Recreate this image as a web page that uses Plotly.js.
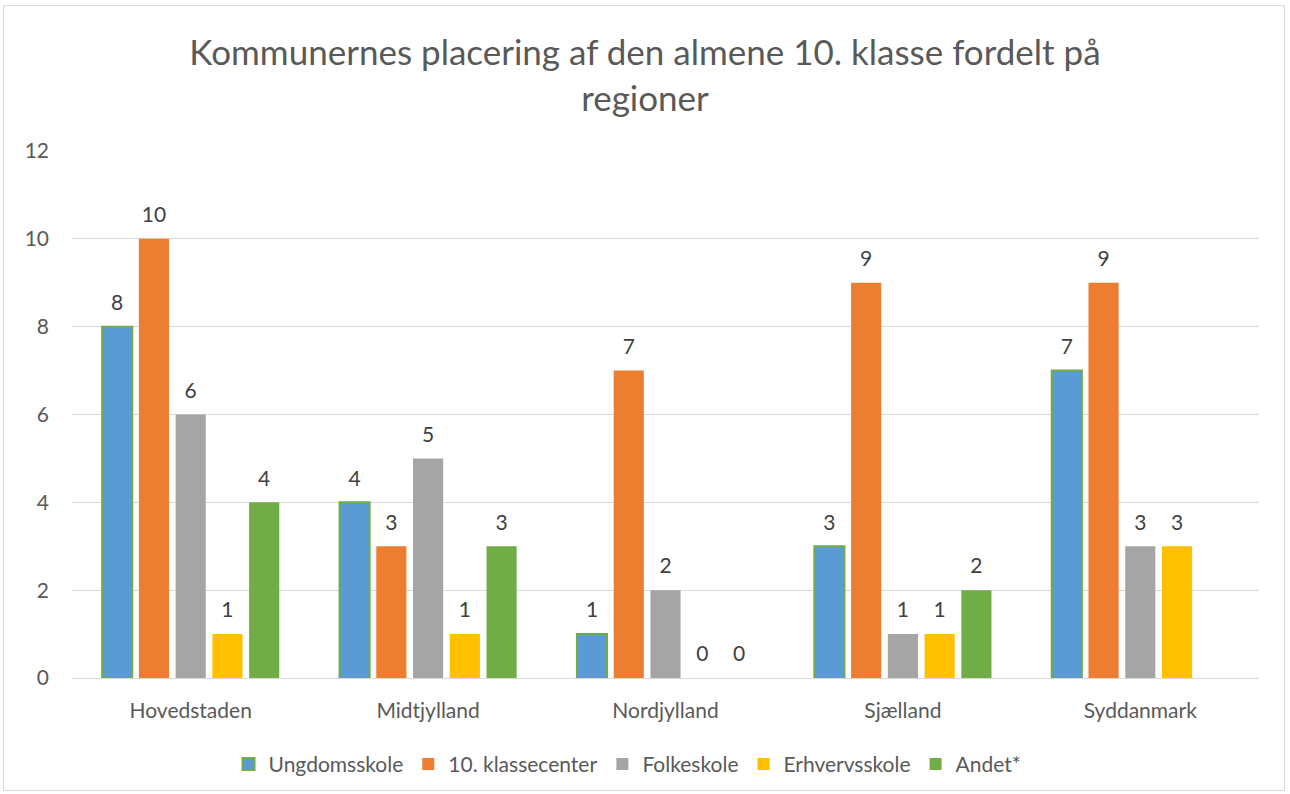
<!DOCTYPE html>
<html>
<head>
<meta charset="utf-8">
<script src="https://cdn.plot.ly/plotly-3.0.1.min.js"></script>
<style>
html,body{margin:0;padding:0;background:#fff;}
#frame{position:absolute;left:3px;top:5px;width:1282px;height:786px;border:1px solid #d9d9d9;box-sizing:border-box;}
#chart{position:absolute;left:0;top:0;width:1290px;height:794px;}
</style>
</head>
<body>
<div id="frame"></div>
<div id="chart"></div>
<script>
const regions = ["Hovedstaden", "Midtjylland", "Nordjylland", "Sjælland", "Syddanmark"];
const seriesNames = ["Ungdomsskole", "10. klassecenter", "Folkeskole", "Erhvervsskole", "Andet*"];
const ungdomsskole = [8, 4, 1, 3, 7];
const klassecenter = [10, 3, 7, 9, 9];
const folkeskole = [6, 5, 2, 1, 3];
const erhvervsskole = [1, 1, 0, 1, 3];
const andet = [4, 3, 0, 2, null];
const colors = ["#5B9BD5", "#ED7D31", "#A5A5A5", "#FFC000", "#70AD47"];
const outlines = ["#70AD47", "#ED7D31", "#A5A5A5", "#FFC000", "#70AD47"];
const outlineWidths = [2, 0, 0, 0, 0];
const yTicks = [0, 2, 4, 6, 8, 10, 12];

const allValues = [ungdomsskole, klassecenter, folkeskole, erhvervsskole, andet];
const font = "Lato, 'Open Sans', sans-serif";

const traces = allValues.map((vals, i) => ({
  type: "bar",
  name: seriesNames[i],
  x: regions,
  y: vals,
  text: vals.map(v => v === null ? "" : "<span style='font-size:21px'>" + v + "</span><br> "),
  textposition: "outside",
  cliponaxis: false,
  textfont: {family: font, size: 9, color: "#404040"},
  marker: {color: colors[i], line: {color: outlines[i], width: outlineWidths[i]}},
  hoverinfo: "x+y"
}));

const layout = {
  width: 1290,
  height: 794,
  paper_bgcolor: "rgba(0,0,0,0)",
  plot_bgcolor: "rgba(0,0,0,0)",
  margin: {l: 72, r: 31, t: 151, b: 116, autoexpand: false},
  title: {
    text: "Kommunernes placering af den almene 10. klasse fordelt på<br>regioner",
    font: {family: font, size: 35, color: "#595959"},
    x: 0.5, xanchor: "center",
    yref: "container",
    y: 0.918, yanchor: "top"
  },
  barmode: "group",
  bargap: 0.226,
  bargroupgap: 0.18,
  xaxis: {
    type: "category",
    showgrid: false,
    showline: true,
    linecolor: "#d9d9d9",
    linewidth: 1,
    ticks: "",
    ticklabelstandoff: 14,
    tickfont: {family: font, size: 21, color: "#595959"},
    fixedrange: true
  },
  yaxis: {
    range: [0, 12],
    tickvals: yTicks,
    ticktext: yTicks.map(String),
    showgrid: true,
    gridcolor: "#d9d9d9",
    gridwidth: 1,
    zeroline: true,
    zerolinecolor: "#d9d9d9",
    showline: false,
    ticks: "",
    ticklabelstandoff: 22,
    tickfont: {family: font, size: 21, color: "#595959"},
    fixedrange: true
  },
  showlegend: true,
  legend: {
    orientation: "h",
    x: 0.468, xanchor: "center",
    y: -0.125, yanchor: "top",
    font: {family: font, size: 21, color: "#595959"},
    itemwidth: 30,
    traceorder: "normal"
  }
};

Plotly.newPlot("chart", traces, layout, {displayModeBar: false, staticPlot: true});
</script>
</body>
</html>
